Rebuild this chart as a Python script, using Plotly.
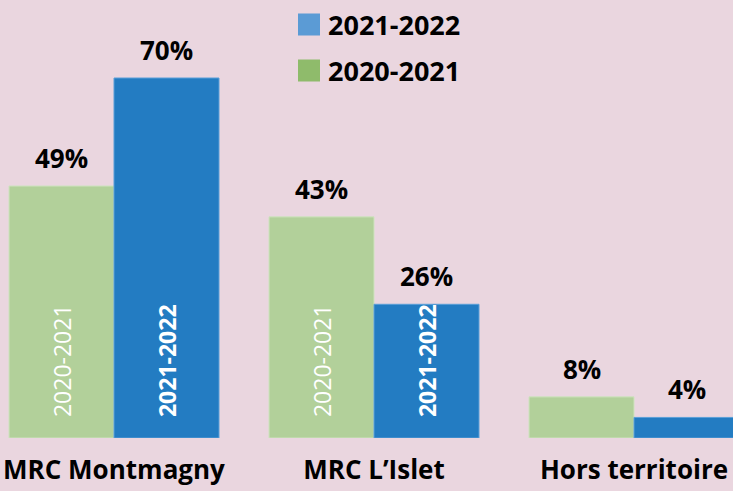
import plotly.graph_objects as go

categories = ["MRC Montmagny", "MRC L\u2019Islet", "Hors territoire"]
series_names = ["2020-2021", "2021-2022"]
values_2020 = [49, 43, 8]
values_2021 = [70, 26, 4]
inside_2020 = ["2020-2021", "2020-2021", ""]
inside_2021 = ["2021-2022", "2021-2022", ""]

BG = "#ead6df"
GREEN = "#b2d09a"
BLUE = "#237cc2"
LEG_GREEN = "#8fbb6b"
LEG_BLUE = "#5b9bd5"
FONT = "Open Sans"

W, H = 733, 491
MB = 53
PLOT_H = H - MB
x_idx = list(range(len(categories)))
bar_w = 105 / 260

pad = "\u00a0\u00a0\u00a0"

fig = go.Figure()
fig.add_trace(go.Bar(
    x=x_idx, y=values_2020, name=series_names[0], width=bar_w,
    offset=-bar_w,
    marker=dict(color=GREEN, line=dict(color="#cfe3bf", width=1)),
    text=[pad + t if t else "" for t in inside_2020],
    textposition="inside", insidetextanchor="start", textangle=-90,
    constraintext="none",
    textfont=dict(family=FONT, size=23, color="white"),
    hoverinfo="skip",
))
fig.add_trace(go.Bar(
    x=x_idx, y=values_2021, name=series_names[1], width=bar_w,
    offset=0,
    marker=dict(color=BLUE, line=dict(color="#5a9fd8", width=1)),
    text=[pad + "<b>" + t + "</b>" if t else "" for t in inside_2021],
    textposition="inside", insidetextanchor="start", textangle=-90,
    constraintext="none",
    textfont=dict(family=FONT, size=23, color="white"),
    hoverinfo="skip",
))

annotations = []
for i, (a, b) in enumerate(zip(values_2020, values_2021)):
    for xv, v in ((i - bar_w / 2, a), (i + bar_w / 2, b)):
        annotations.append(dict(
            x=xv, y=v, xref="x", yref="y", text="<b>%d%%</b>" % v,
            showarrow=False, yanchor="bottom", yshift=8,
            font=dict(family=FONT, size=26, color="black"),
        ))

# legend (custom, larger swatches)
legend_items = [(series_names[1], LEG_BLUE, 24.5), (series_names[0], LEG_GREEN, 70.5)]
shapes = []
for name, col, cy in legend_items:
    shapes.append(dict(
        type="rect", xref="paper", yref="paper",
        x0=298 / W, x1=320 / W,
        y0=(PLOT_H - (cy + 11)) / PLOT_H, y1=(PLOT_H - (cy - 11)) / PLOT_H,
        fillcolor=col, line=dict(width=0),
    ))
    annotations.append(dict(
        x=326 / W, y=(PLOT_H - cy) / PLOT_H, xref="paper", yref="paper",
        text="<b>%s</b>" % name, showarrow=False, xanchor="left", yanchor="middle",
        font=dict(family=FONT, size=27, color="black"),
    ))

fig.update_layout(
    width=W, height=H,
    margin=dict(l=0, r=0, t=0, b=MB, pad=0),
    paper_bgcolor=BG, plot_bgcolor=BG,
    barmode="overlay",
    showlegend=False,
    xaxis=dict(
        range=[-114 / 260, (W - 114) / 260],
        tickvals=x_idx, ticktext=["<b>%s</b>" % c for c in categories],
        tickfont=dict(family=FONT, size=26, color="black"),
        ticklabelstandoff=14,
        showgrid=False, zeroline=False, showline=False, ticks="",
        fixedrange=True,
    ),
    yaxis=dict(
        range=[0, PLOT_H / (360 / 70)],
        visible=False, showgrid=False, zeroline=False, fixedrange=True,
    ),
    annotations=annotations,
    shapes=shapes,
)

fig.write_html("out.html")
